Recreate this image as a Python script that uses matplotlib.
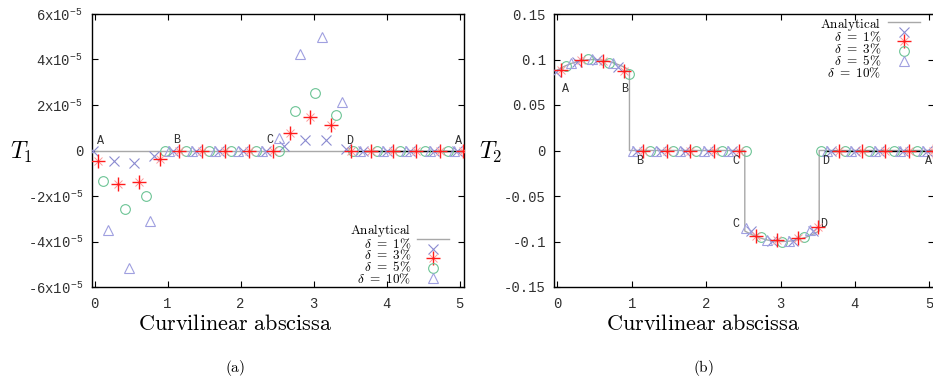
import matplotlib
matplotlib.use('Agg')
import matplotlib.pyplot as plt
from matplotlib.legend_handler import HandlerTuple

plt.rcParams['mathtext.fontset'] = 'cm'
plt.rcParams['font.family'] = ['Liberation Mono', 'DejaVu Sans Mono']

# ---------------- data ----------------
# Analytical solution
s_an = [0.0, 0.1, 0.2, 0.3, 0.4, 0.485, 0.57, 0.67, 0.77, 0.87, 0.97, 0.97,
        2.52, 2.52, 2.62, 2.72, 2.82, 2.92, 3.02, 3.12, 3.22, 3.32, 3.42, 3.52,
        3.52, 5.06]
T1_an = [0.0] * 26
T2_an = [0.0885, 0.0927, 0.0960, 0.0983, 0.0996, 0.1, 0.0996, 0.0983, 0.0960,
         0.0927, 0.0885, 0.0, 0.0, -0.0885, -0.0927, -0.0960, -0.0983, -0.0996,
         -0.1, -0.0996, -0.0983, -0.0960, -0.0927, -0.0885, 0.0, 0.0]

# black reference segment on the D-A side
s_blk = [3.6, 5.06]
T_blk = [0.0, 0.0]

# delta = 1 %
s_d1 = [-0.02, 0.26, 0.54, 0.82, 1.07, 1.39, 1.71, 2.03, 2.35,
        2.6, 2.88, 3.17, 3.44, 3.68, 4.0, 4.32, 4.65, 4.97]
T1_d1 = [0.0, -0.47e-5, -0.54e-5, -0.25e-5, 0, 0, 0, 0, 0,
         0.18e-5, 0.45e-5, 0.44e-5, 0.07e-5, 0, 0, 0, 0, 0]
T2_d1 = [0.0866, 0.097, 0.100, 0.092, 0, 0, 0, 0, 0,
         -0.088, -0.099, -0.099, -0.088, 0, 0, 0, 0, 0]

# delta = 3 %
s_d3 = [0.05, 0.32, 0.61, 0.90, 1.15, 1.47, 1.79, 2.11, 2.44,
        2.67, 2.95, 3.24, 3.51, 3.78, 4.09, 4.40, 4.73, 5.05]
T1_d3 = [-0.48e-5, -1.48e-5, -1.39e-5, -0.37e-5, 0, 0, 0, 0, 0,
         0.76e-5, 1.49e-5, 1.13e-5, 0.0, 0, 0, 0, 0, 0]
T2_d3 = [0.0887, 0.0995, 0.098, 0.087, 0, 0, 0, 0, 0,
         -0.0936, -0.0984, -0.0965, -0.0844, 0, 0, 0, 0, 0]

# delta = 5 %
s_d5 = [0.12, 0.41, 0.70, 0.97, 1.25, 1.56, 1.87, 2.21, 2.53,
        2.74, 3.02, 3.31, 3.54, 3.87, 4.19, 4.52, 4.84]
T1_d5 = [-1.32e-5, -2.56e-5, -1.98e-5, 0.0, 0, 0, 0, 0, 0,
         1.73e-5, 2.54e-5, 1.54e-5, 0, 0, 0, 0, 0]
T2_d5 = [0.093, 0.101, 0.0965, 0.084, 0, 0, 0, 0, 0,
         -0.095, -0.101, -0.0947, 0, 0, 0, 0, 0]

# delta = 10 %
s_d10 = [0.18, 0.47, 0.755, 1.02, 1.33, 1.65, 1.97, 2.29,
         2.53, 2.82, 3.11, 3.39, 3.63, 3.95, 4.27, 4.60, 4.92]
T1_d10 = [-3.49e-5, -5.16e-5, -3.08e-5, 0, 0, 0, 0, 0,
          0.54e-5, 4.25e-5, 4.98e-5, 2.15e-5, 0, 0, 0, 0, 0]
T2_d10 = [0.0958, 0.101, 0.096, 0, 0, 0, 0, 0,
          -0.0855, -0.0984, -0.0995, -0.0874, 0, 0, 0, 0, 0]

xticks = [0, 1, 2, 3, 4, 5]
xtick_labels = ['0', '1', '2', '3', '4', '5']
yticks1 = [-6e-5, -4e-5, -2e-5, 0, 2e-5, 4e-5, 6e-5]
ytick_labels1 = [r'-6x10$^{\mathdefault{-5}}$', r'-4x10$^{\mathdefault{-5}}$',
                 r'-2x10$^{\mathdefault{-5}}$', '0',
                 r'2x10$^{\mathdefault{-5}}$', r'4x10$^{\mathdefault{-5}}$',
                 r'6x10$^{\mathdefault{-5}}$']
yticks2 = [-0.15, -0.1, -0.05, 0, 0.05, 0.1, 0.15]
ytick_labels2 = ['-0.15', '-0.1', '-0.05', '0', '0.05', '0.1', '0.15']

labels = [r'$\mathrm{Analytical}$', r'$\delta\ =\ 1\%$', r'$\delta\ =\ 3\%$',
          r'$\delta\ =\ 5\%$', r'$\delta\ =\ 10\%$']

# point labels (text, s, value)
pts1 = [('A', 0.085, 0.42e-5), ('B', 1.12, 0.44e-5), ('C', 2.40, 0.44e-5),
        ('D', 3.49, 0.42e-5), ('A', 4.99, 0.42e-5)]
pts2 = [('A', 0.113, 0.068), ('B', 0.91, 0.068), ('B', 1.10, -0.012),
        ('C', 2.40, -0.012), ('D', 3.60, -0.012), ('A', 4.99, -0.012),
        ('C', 2.40, -0.081), ('D', 3.585, -0.081)]

# ---------------- style ----------------
c_an = '#a8a8a8'
c_d1 = '#8a8ad0'
c_d3 = '#ff1a1a'
c_d3b = '#ff9a9a'
c_d5 = '#6cc495'
c_d10 = '#a0a0e0'
tick_color = '#303030'

W, H = 933, 380
fig = plt.figure(figsize=(W / 100, H / 100), dpi=100)
ax1 = fig.add_axes([91.7 / W, 1 - 287 / H, (464 - 91.7) / W, 273 / H])
ax2 = fig.add_axes([554.3 / W, 1 - 287 / H, (933.8 - 554.3) / W, 273 / H])


def draw(ax, T_an, T_d1, T_d3, T_d5, T_d10):
    h0, = ax.plot(s_an, T_an, color=c_an, lw=1.0, zorder=2)
    ax.plot(s_blk, T_blk, color='black', lw=1.0, zorder=2.5)
    h1, = ax.plot(s_d1, T_d1, ls='none', marker='x', ms=6.5, mew=0.8,
                  color=c_d1, zorder=3)
    h3b, = ax.plot(s_d3, T_d3, ls='none', marker='x', ms=6.0, mew=0.7,
                   color=c_d3b, zorder=3.9)
    h3, = ax.plot(s_d3, T_d3, ls='none', marker='+', ms=9.5, mew=1.0,
                  color=c_d3, zorder=4)
    h5, = ax.plot(s_d5, T_d5, ls='none', marker='o', ms=7, mew=0.8,
                  mfc='none', mec=c_d5, zorder=3)
    h10, = ax.plot(s_d10, T_d10, ls='none', marker='^', ms=7, mew=0.8,
                   mfc='none', mec=c_d10, zorder=3)
    ax.set_xlim(-0.04, 5.06)
    ax.set_xticks(xticks)
    ax.set_xticklabels(xtick_labels)
    ax.tick_params(direction='in', top=True, right=True, length=4, width=0.8,
                   labelsize=10, labelcolor=tick_color)
    ax.tick_params(axis='x', pad=7)
    ax.tick_params(axis='y', pad=6)
    for sp in ax.spines.values():
        sp.set_linewidth(1.0)
    return [h0, h1, (h3b, h3), h5, h10]


hs1 = draw(ax1, T1_an, T1_d1, T1_d3, T1_d5, T1_d10)
ax1.set_ylim(-6e-5, 6e-5)
ax1.set_yticks(yticks1)
ax1.set_yticklabels(ytick_labels1)

hs2 = draw(ax2, T2_an, T2_d1, T2_d3, T2_d5, T2_d10)
ax2.set_ylim(-0.15, 0.15)
ax2.set_yticks(yticks2)
ax2.set_yticklabels(ytick_labels2)

for ax, pts in ((ax1, pts1), (ax2, pts2)):
    for t, xx, yy in pts:
        ax.text(xx, yy, t, fontsize=8.5, color=tick_color, ha='center',
                va='center', family=['Liberation Mono'])

# legend: samples from the library's legend, labels as one right-aligned block
leg_fs = 6.0
leg_px = leg_fs * 100 / 72
row_px = 11.8
leg_kw = dict(frameon=False, markerfirst=False, handlelength=32 / leg_px,
              handleheight=row_px / leg_px, handletextpad=0.0,
              labelspacing=0.0, borderpad=0, borderaxespad=0,
              prop={'size': leg_fs, 'family': 'cmr10'},
              handler_map={tuple: HandlerTuple(ndivide=1, pad=0)})
ax1.legend(hs1, [''] * 5, loc='lower right', bbox_to_anchor=(0.9605, 0.0117),
           **leg_kw)
ax2.legend(hs2, [''] * 5, loc='upper right', bbox_to_anchor=(0.9637, 0.985),
           **leg_kw)
label_block = '\n'.join(labels)
ax1.text(0.8577, 0.1198, label_block, transform=ax1.transAxes, ha='right',
         va='center', multialignment='right', fontsize=9.5, family='cmr10',
         linespacing=0.78)
ax2.text(0.861, 0.8758, label_block, transform=ax2.transAxes, ha='right',
         va='center', multialignment='right', fontsize=9.5, family='cmr10',
         linespacing=0.78)

fig.text(21 / W, 1 - 152 / H, r'$T_1$', fontsize=17, ha='center', va='center')
fig.text(491 / W, 1 - 152 / H, r'$T_2$', fontsize=17, ha='center', va='center')
fig.text(235 / W, 1 - 325 / H, r'$\mathrm{Curvilinear\ abscissa}$',
         fontsize=16, ha='center', va='center')
fig.text(703 / W, 1 - 325 / H, r'$\mathrm{Curvilinear\ abscissa}$',
         fontsize=16, ha='center', va='center')
fig.text(235 / W, 1 - 368 / H, r'$\mathrm{(a)}$', fontsize=11,
         ha='center', va='center')
fig.text(703 / W, 1 - 368 / H, r'$\mathrm{(b)}$', fontsize=11,
         ha='center', va='center')

fig.savefig('out.png', dpi=100)
